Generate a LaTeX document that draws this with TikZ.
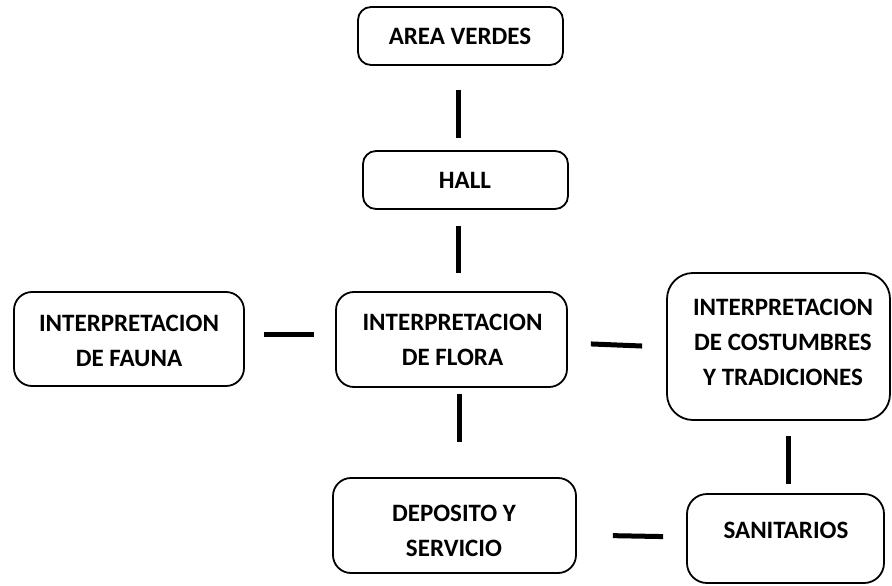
\documentclass[tikz,border=0pt]{standalone}
\usepackage{fontspec}
\setmainfont{Carlito}
\begin{document}
\begin{tikzpicture}[x=1pt,y=-1pt,
  box/.style={draw=black, line width=1.8pt, rounded corners=#1, inner sep=0pt},
  box/.default=16pt,
  lbl/.style={font=\bfseries\fontsize{25}{35}\selectfont, align=center, inner sep=0pt},
  conn/.style={line width=5pt}]
\useasboundingbox (0,0) rectangle (892,586);
% boxes
\node[box=13pt, minimum width=205pt, minimum height=58pt] (av) at (460.5,36) {};
\node[box=13pt, minimum width=205pt, minimum height=58pt] (hall) at (465.5,180) {};
\node[box=18pt, minimum width=230pt, minimum height=94pt] (fauna) at (129,339) {};
\node[box=18pt, minimum width=231pt, minimum height=95pt] (flora) at (451.5,339.5) {};
\node[box=26pt, minimum width=223pt, minimum height=147pt] (cost) at (778.5,346.5) {};
\node[box=18pt, minimum width=243pt, minimum height=95pt] (dep) at (454.5,525.5) {};
\node[box=20pt, minimum width=197pt, minimum height=89pt] (san) at (785.5,538.5) {};
% texts
\node[lbl] (tav) at (460,36) {AREA VERDES};
\node[lbl] (thall) at (465,180) {HALL};
\node[lbl] (tfauna) at (129,341) {INTERPRETACION\\DE FAUNA};
\node[lbl] (tflora) at (452.5,340) {INTERPRETACION\\DE FLORA};
\node[lbl] (tcost) at (783,342) {INTERPRETACION\\DE COSTUMBRES\\Y TRADICIONES};
\node[lbl] (tdep) at (454,531) {DEPOSITO Y\\SERVICIO};
\node[lbl] (tsan) at (786,530) {SANITARIOS};
% connectors
\draw[conn, shorten <=24pt, shorten >=12pt] ([xshift=-2.5pt]av.south) -- ([xshift=-7.5pt]hall.north);
\draw[conn, shorten <=16pt, shorten >=18pt] ([xshift=-7.5pt]hall.south) -- ([xshift=6.5pt]flora.north);
\draw[conn, shorten <=6pt, shorten >=35pt] ([xshift=7.5pt]flora.south) -- ([xshift=4.5pt]dep.north);
\draw[conn, shorten <=19pt, shorten >=21pt] ([yshift=5pt]fauna.east) -- ([yshift=5.5pt]flora.west);
\draw[conn, shorten <=23pt, shorten >=24pt] ([yshift=-3.5pt]flora.east) -- ([yshift=-0.5pt]cost.west);
\draw[conn, shorten <=15pt, shorten >=9pt] ([xshift=9.5pt]cost.south) -- ([xshift=2.5pt]san.north);
\draw[conn, shorten <=36pt, shorten >=23pt] ([yshift=-9.5pt]dep.east) -- ([yshift=1.5pt]san.west);
\end{tikzpicture}
\end{document}
